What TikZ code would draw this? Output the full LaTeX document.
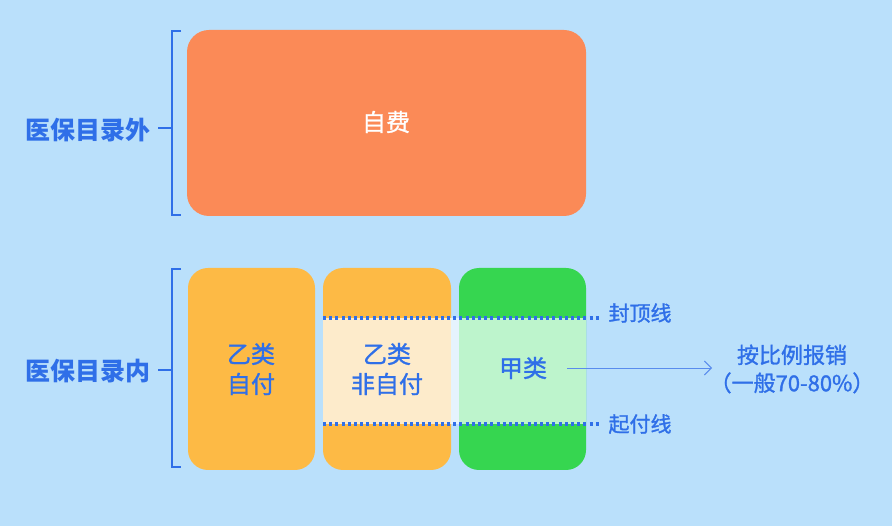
\documentclass[tikz,border=0pt]{standalone}
\usepackage{fontspec}
\setmainfont{Noto Sans CJK SC}
\newfontfamily\medfont[FakeBold=1.3]{Noto Sans CJK SC}
\usetikzlibrary{arrows.meta}
\definecolor{bg}{HTML}{BAE0FB}
\definecolor{orangebox}{HTML}{FB8A57}
\definecolor{yelbox}{HTML}{FDBA45}
\definecolor{greenbox}{HTML}{36D650}
\definecolor{txtblue}{HTML}{2F6FE8}
\definecolor{bandyel}{HTML}{FDEBCB}
\definecolor{bandgap}{HTML}{E6F3FD}
\definecolor{bandgreen}{HTML}{BDF4CC}
\tikzset{
  box/.style={rounded corners=22pt, draw=none},
  brack/.style={draw=txtblue, line width=1.4pt},
  sidelbl/.style={text=txtblue, font=\fontsize{25}{28}\selectfont\bfseries},
  boxlbl/.style={text=txtblue, font=\fontsize{24}{30}\medfont, align=center},
  linelbl/.style={text=txtblue, font=\fontsize{21}{24}\medfont, anchor=west},
  dotline/.style={draw=txtblue, line width=3.2pt, dash pattern=on 3pt off 3.2pt},
}
\begin{document}
\begin{tikzpicture}[x=1pt,y=-1pt]
\fill[bg] (0,0) rectangle (892,526);
\useasboundingbox (0,0) rectangle (892,526);
% top box
\fill[orangebox, box] (187,30) rectangle (586,216);
\node[text=white, font=\fontsize{24}{28}\medfont] (zf) at (386,122) {自费};
% bottom boxes
\fill[yelbox, rounded corners=20pt] (188,268) rectangle (315,470);
\fill[yelbox, rounded corners=20pt] (323,268) rectangle (451,470);
\fill[greenbox, rounded corners=20pt] (459,268) rectangle (586,470);
% band
\fill[bandyel] (323,318) rectangle (451,424);
\fill[bandgap] (451,318) rectangle (459,424);
\fill[bandgreen] (459,318) rectangle (586,424);
\coordinate (t1) at (323,318);
\coordinate (t2) at (600,318);
\coordinate (b1) at (323,424);
\coordinate (b2) at (600,424);
\draw[dotline] (t1) -- (t2);
\draw[dotline] (b1) -- (b2);
\node[linelbl] (fd) at (605,313) {封顶线};
\node[linelbl] (qf) at (605,424) {起付线};
% box labels
\node[boxlbl] (y1) at (251,369) {乙类\\自付};
\node[boxlbl] (y2) at (387,369) {乙类\\非自付};
\node[boxlbl] (jl) at (523,368) {甲类};
\node[text=txtblue, font=\fontsize{22}{28}\medfont, align=center, inner sep=2pt] (bl) at (792,369) {按比例报销\\（一般70-80\%）};
\coordinate (a1) at (567,368);
\coordinate (a2) at (712,368);
\draw[draw=txtblue!80, line width=0.9pt, -{Straight Barb[length=7pt,width=14pt]}] (a1) -- (a2);
% brackets
\coordinate (u1) at (181,31);
\coordinate (u2) at (181,215);
\draw[brack] (u1) -- (172,31) -- (172,215) -- (u2);
\coordinate (um) at (172,128);
\coordinate (ue) at (158,128);
\node[sidelbl, anchor=east, inner sep=0pt] (outl) at (151,130) {医保目录外};
\draw[brack] (um) -- (ue);
\coordinate (l1) at (181,269);
\coordinate (l2) at (181,467);
\draw[brack] (l1) -- (172,269) -- (172,467) -- (l2);
\coordinate (lm) at (172,370);
\coordinate (le) at (158,370);
\node[sidelbl, anchor=east, inner sep=0pt] (inl) at (151,371) {医保目录内};
\draw[brack] (lm) -- (le);
\end{tikzpicture}
\end{document}
